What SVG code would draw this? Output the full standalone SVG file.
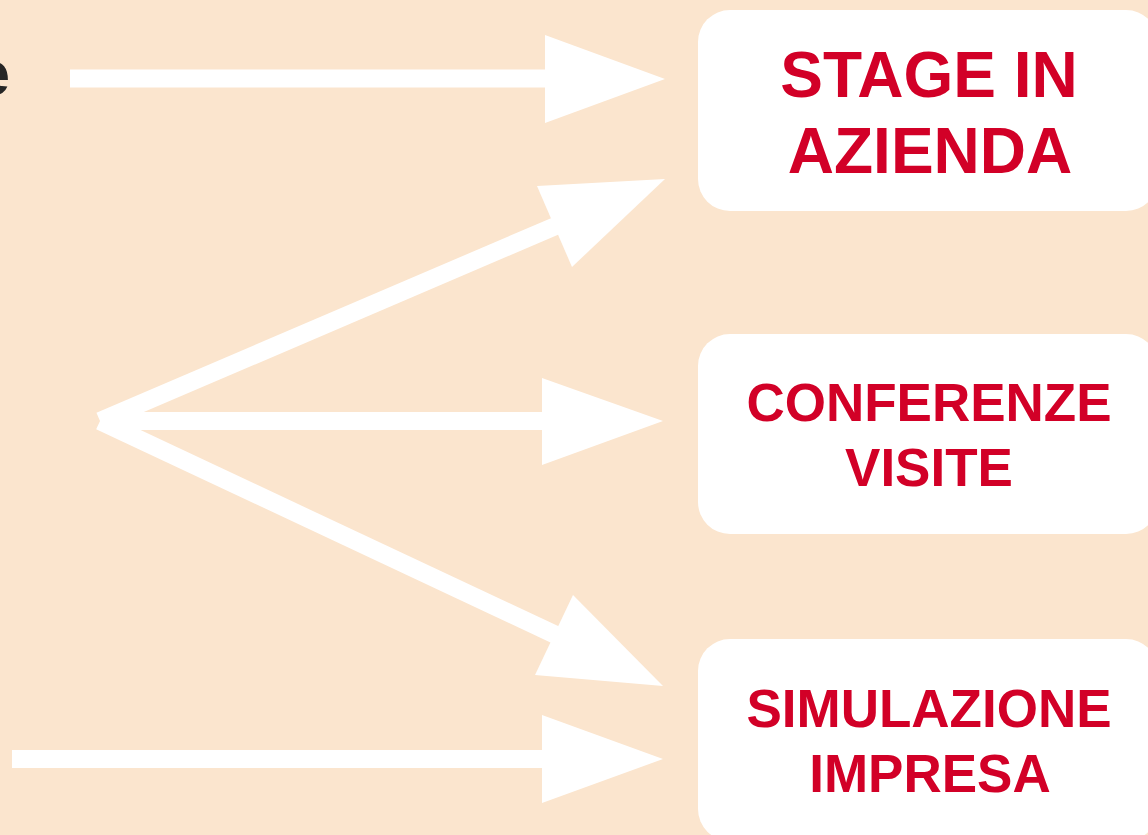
<svg xmlns="http://www.w3.org/2000/svg" width="1148" height="835" viewBox="0 0 1148 835">
<style>
.box{fill:#ffffff}
.lbl{font-family:"Liberation Sans",Arial,sans-serif;font-weight:bold;fill:#d20027;text-anchor:middle}
.shaft{stroke:#ffffff;stroke-width:18;stroke-linecap:butt;fill:none}
.head{fill:#ffffff}
</style>
<rect x="0" y="0" width="1148" height="835" fill="#fbe5ce"/>
<text x="10" y="95" font-family="Liberation Sans, Arial, sans-serif" font-weight="bold" font-size="63" fill="#262626" text-anchor="end">e</text>
<g id="connectors">
<line class="shaft" x1="70" y1="78.5" x2="548" y2="78.5"/>
<polygon class="head" points="545,35 665,79 545,123"/>
<line class="shaft" x1="100" y1="421" x2="558" y2="225"/>
<polygon class="head" points="537,186 665,179 572,267"/>
<line class="shaft" x1="100" y1="421" x2="545" y2="421"/>
<polygon class="head" points="542,378 663,421 542,465"/>
<line class="shaft" x1="100" y1="421" x2="558" y2="636"/>
<polygon class="head" points="573,595 663,686 535,675"/>
<line class="shaft" x1="12" y1="759" x2="545" y2="759"/>
<polygon class="head" points="542,715 663,759 542,803"/>
</g>
<g id="node-stage">
<rect class="box" x="698" y="10" width="460" height="201" rx="32"/>
<text class="lbl" x="929" y="97" font-size="64">STAGE IN</text>
<text class="lbl" x="930" y="173" font-size="64">AZIENDA</text>
</g>
<g id="node-conferenze">
<rect class="box" x="698" y="334" width="460" height="200" rx="32"/>
<text class="lbl" x="929" y="421" font-size="53">CONFERENZE</text>
<text class="lbl" x="929" y="486" font-size="53">VISITE</text>
</g>
<g id="node-simulazione">
<rect class="box" x="698" y="639" width="460" height="202" rx="32"/>
<text class="lbl" x="929" y="727" font-size="53">SIMULAZIONE</text>
<text class="lbl" x="930" y="792" font-size="53">IMPRESA</text>
</g>
</svg>
